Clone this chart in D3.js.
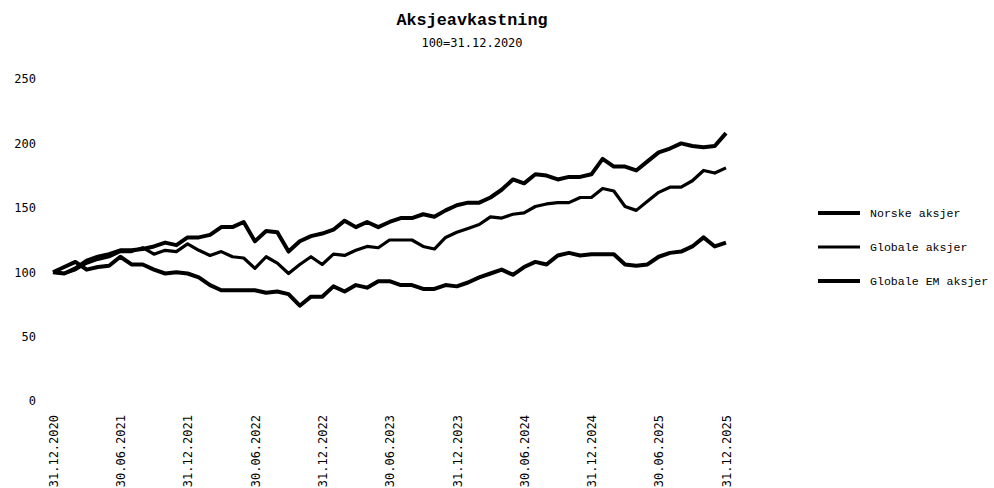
<!DOCTYPE html>
<html>
<head>
<meta charset="utf-8">
<script src="https://cdn.jsdelivr.net/npm/d3@7"></script>
<style>
  body { margin: 0; background: #fff; }
  svg { display: block; }
  .title { font-family: "Liberation Mono", monospace; font-weight: bold; font-size: 16.8px; }
  .subtitle { font-family: "DejaVu Sans Mono", monospace; font-size: 12px; }
  .tick text { font-family: "DejaVu Sans Mono", monospace; font-size: 12px; fill: #000; }
  .legendText { font-family: "Liberation Mono", monospace; font-size: 11.6px; }
</style>
</head>
<body>
<svg id="chart" width="994" height="488"></svg>
<script>
// month index 0 = 31.12.2020 ... 60 = 31.12.2025
const dateLabels = ["31.12.2020", "30.06.2021", "31.12.2021", "30.06.2022", "31.12.2022", "30.06.2023",
  "31.12.2023", "30.06.2024", "31.12.2024", "30.06.2025", "31.12.2025"];
const yTicks = [0, 50, 100, 150, 200, 250];

const norske = [100, 99, 103, 109, 112, 114, 117, 117, 118, 120, 123, 121, 127,
  127, 129, 135, 135, 139, 124, 132, 131, 116, 124, 128, 130,
  133, 140, 135, 139, 135, 139, 142, 142, 145, 143, 148, 152,
  154, 154, 158, 164, 172, 169, 176, 175, 172, 174, 174, 176,
  188, 182, 182, 179, 186, 193, 196, 200, 198, 197, 198, 208];
const globale = [100, 99, 102, 107, 110, 112, 116, 116, 119, 114, 117, 116, 122,
  117, 113, 116, 112, 111, 103, 112, 107, 99, 106, 112, 106,
  114, 113, 117, 120, 119, 125, 125, 125, 120, 118, 127, 131,
  134, 137, 143, 142, 145, 146, 151, 153, 154, 154, 158, 158,
  165, 163, 151, 148, 155, 162, 166, 166, 171, 179, 177, 181];
const globaleEM = [100, 104, 108, 102, 104, 105, 112, 106, 106, 102, 99, 100, 99,
  96, 90, 86, 86, 86, 86, 84, 85, 83, 74, 81, 81,
  89, 85, 90, 88, 93, 93, 90, 90, 87, 87, 90, 89,
  92, 96, 99, 102, 98, 104, 108, 106, 113, 115, 113, 114,
  114, 114, 106, 105, 106, 112, 115, 116, 120, 127, 120, 123];

const seriesNames = ["Norske aksjer", "Globale aksjer", "Globale EM aksjer"];
const seriesValues = [norske, globale, globaleEM];
const seriesWidths = [4, 3.2, 4];

const svg = d3.select("#chart");

const x = d3.scaleLinear().domain([0, 60]).range([53, 726]);
const y = d3.scaleLinear().domain([0, 250]).range([401, 79]);

// title
svg.append("text")
  .attr("class", "title")
  .attr("x", 472).attr("y", 25)
  .attr("text-anchor", "middle")
  .text("Aksjeavkastning");
svg.append("text")
  .attr("class", "subtitle")
  .attr("x", 472).attr("y", 47)
  .attr("text-anchor", "middle")
  .text("100=31.12.2020");

// y axis, labels only
const yAxis = svg.append("g")
  .attr("transform", "translate(36,0)")
  .call(d3.axisLeft(y).tickValues(yTicks).tickSize(0).tickPadding(0));
yAxis.select(".domain").remove();

// x axis, rotated labels
const xAxis = svg.append("g")
  .attr("transform", "translate(0,415)")
  .call(d3.axisBottom(x)
    .tickValues(d3.range(0, 61, 6))
    .tickFormat((d, i) => dateLabels[i])
    .tickSize(0));
xAxis.select(".domain").remove();
xAxis.selectAll("text")
  .attr("transform", "rotate(-90)")
  .attr("x", 0).attr("y", 0).attr("dy", "0.35em")
  .attr("text-anchor", "end");

// lines
const line = d3.line()
  .x((d, i) => x(i))
  .y(d => y(d));

seriesValues.forEach((vals, k) => {
  svg.append("path")
    .datum(vals)
    .attr("fill", "none")
    .attr("stroke", "#000")
    .attr("stroke-width", seriesWidths[k])
    .attr("stroke-linejoin", "round")
    .attr("d", line);
});

// legend
const legend = svg.append("g").attr("transform", "translate(818,213)");
seriesNames.forEach((name, k) => {
  const row = legend.append("g").attr("transform", "translate(0," + (k * 34) + ")");
  row.append("line")
    .attr("x1", 0).attr("x2", 42)
    .attr("y1", 0).attr("y2", 0)
    .attr("stroke", "#000")
    .attr("stroke-width", seriesWidths[k]);
  row.append("text")
    .attr("class", "legendText")
    .attr("x", 52).attr("y", 4)
    .text(name);
});
</script>
</body>
</html>
